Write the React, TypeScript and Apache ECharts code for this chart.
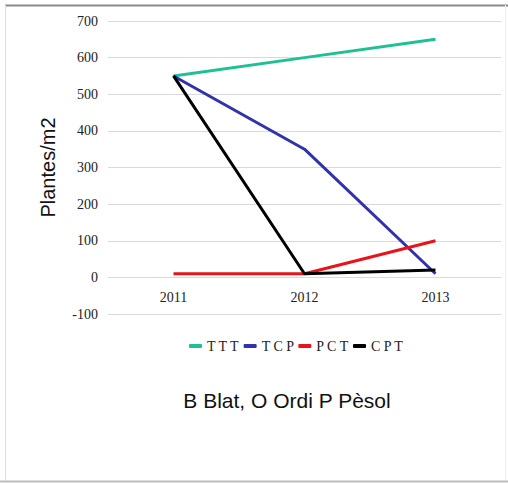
import React, { useEffect, useRef } from "react";
import * as echarts from "echarts";

const categories = ["2011", "2012", "2013"];
const seriesNames = ["TTT", "TCP", "PCT", "CPT"];
const tttValues = [550, 600, 650];
const tcpValues = [550, 350, 10];
const pctValues = [10, 10, 100];
const cptValues = [550, 10, 20];
const seriesColors = ["#1fc093", "#3232aa", "#e8131b", "#000000"];

const SERIF = "'Liberation Serif', 'DejaVu Serif', serif";
const SANS = "'Liberation Sans', Arial, sans-serif";

export default function App() {
  const ref = useRef<HTMLDivElement>(null);
  useEffect(() => {
    if (!ref.current) return;
    const chart = echarts.init(ref.current, null, { renderer: "svg" });
    const values = [tttValues, tcpValues, pctValues, cptValues];
    const gridTop = 21;
    const gridBottom = 170;
    const plotH = 484 - gridTop - gridBottom;
    chart.setOption({
      animation: false,
      backgroundColor: "#ffffff",
      grid: { left: 108, right: 7, top: gridTop, bottom: gridBottom },
      legend: {
        left: 184,
        top: 334,
        icon: "roundRect",
        itemWidth: 13,
        itemHeight: 4,
        itemGap: 4,
        data: seriesNames,
        formatter: (n: string) => n.split("").join(" "),
        textStyle: { fontFamily: SERIF, fontSize: 14, color: "#222" },
      },
      xAxis: {
        type: "category",
        data: categories,
        boundaryGap: true,
        offset: -plotH / 8,
        axisLine: { show: true, onZero: false, lineStyle: { color: "#d9d9d9" } },
        axisTick: { show: false },
        axisLabel: { fontFamily: SERIF, fontSize: 14, color: "#222", margin: 13 },
      },
      yAxis: {
        type: "value",
        min: -100,
        max: 700,
        interval: 100,
        name: "Plantes/m2",
        nameLocation: "middle",
        nameGap: 50,
        nameTextStyle: { fontFamily: SANS, fontSize: 20, color: "#111" },
        axisLine: { show: false },
        axisTick: { show: false },
        axisLabel: { fontFamily: SERIF, fontSize: 14, color: "#222", margin: 10 },
        splitLine: { lineStyle: { color: "#d9d9d9" } },
      },
      series: seriesNames.map((name, i) => ({
        name,
        type: "line",
        data: values[i],
        showSymbol: false,
        symbol: "none",
        lineStyle: { width: 3, color: seriesColors[i] },
        itemStyle: { color: seriesColors[i] },
      })),
      graphic: [
        { type: "line", shape: { x1: 5, y1: 5.5, x2: 508, y2: 5.5 }, style: { stroke: "#8a8a8a", lineWidth: 2 } },
        { type: "line", shape: { x1: 5.5, y1: 5, x2: 5.5, y2: 481 }, style: { stroke: "#dddddd", lineWidth: 1 } },
        { type: "line", shape: { x1: 505.5, y1: 5, x2: 505.5, y2: 481 }, style: { stroke: "#eeeeee", lineWidth: 1 } },
        { type: "line", shape: { x1: 0, y1: 481.5, x2: 508, y2: 481.5 }, style: { stroke: "#bdbdbd", lineWidth: 2 } },
        {
          type: "text",
          x: 287,
          y: 400,
          style: {
            text: "B Blat, O Ordi P Pèsol",
            fontFamily: SANS,
            fontSize: 21,
            fill: "#111",
            textAlign: "center",
            textVerticalAlign: "middle",
          },
        },
      ],
    });
    return () => chart.dispose();
  }, []);
  return (
    <div
      ref={ref}
      style={{ position: "fixed", left: 0, top: 0, width: 508, height: 484 }}
    />
  );
}
